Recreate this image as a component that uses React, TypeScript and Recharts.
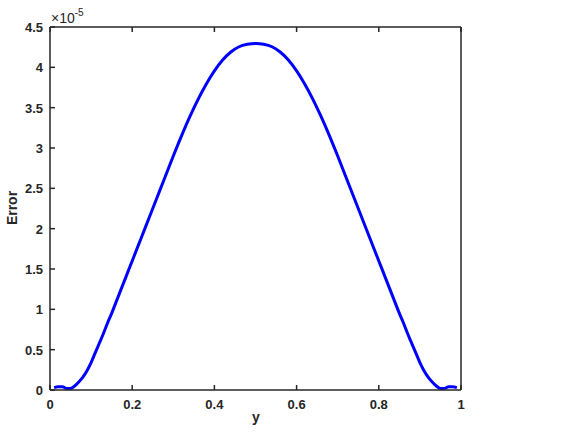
import { LineChart, Line, XAxis, YAxis, Customized } from "recharts";

// error values are in units of 1e-5
const yPos = [
  0.01, 0.02, 0.03, 0.04, 0.05, 0.06, 0.07, 0.08, 0.09, 0.1, 0.11, 0.12, 0.13, 0.14, 0.15, 0.16, 0.17, 0.18, 0.19,
  0.2, 0.22, 0.24, 0.26, 0.28, 0.3, 0.32, 0.34, 0.36, 0.38, 0.4, 0.42, 0.44, 0.46, 0.48, 0.5, 0.52, 0.54, 0.56,
  0.58, 0.6, 0.62, 0.64, 0.66, 0.68, 0.7, 0.72, 0.74, 0.76, 0.78, 0.8, 0.81, 0.82, 0.83, 0.84, 0.85, 0.86, 0.87,
  0.88, 0.89, 0.9, 0.91, 0.92, 0.93, 0.94, 0.95, 0.96, 0.97, 0.98, 0.99,
];
const errorVals = [
  0.03, 0.04, 0.04, 0.02, 0.02, 0.05, 0.1, 0.16, 0.24, 0.34, 0.46, 0.58, 0.7, 0.83, 0.95, 1.08, 1.21, 1.34, 1.47,
  1.6, 1.86, 2.12, 2.38, 2.64, 2.9, 3.15, 3.385, 3.6, 3.79, 3.955, 4.09, 4.19, 4.255, 4.285, 4.295, 4.285, 4.255,
  4.19, 4.09, 3.955, 3.79, 3.6, 3.385, 3.15, 2.9, 2.64, 2.38, 2.12, 1.86, 1.6, 1.47, 1.34, 1.21, 1.08, 0.95, 0.83,
  0.7, 0.58, 0.46, 0.34, 0.24, 0.16, 0.1, 0.05, 0.02, 0.02, 0.04, 0.04, 0.03,
];
const xTicks = [0, 0.2, 0.4, 0.6, 0.8, 1];
const yTicks = [0, 0.5, 1, 1.5, 2, 2.5, 3, 3.5, 4, 4.5];

const data = yPos.map((y, i) => ({ y, err: errorVals[i] }));

const axisColor = "#262626";
const font = "'Liberation Sans', Arial, Helvetica, sans-serif";
const TICK_LEN = 5;
const GAP = 14;

// tick helpers: draw an inward tick mark plus the label (MATLAB style)
const BottomTick = (p: any) => (
  <g>
    <line x1={p.x} x2={p.x} y1={p.y - GAP} y2={p.y - GAP - TICK_LEN} stroke={axisColor} strokeWidth={1.5} />
    <text x={p.x} y={p.y + 5} textAnchor="middle" fontSize={13} fontWeight={700} fill={axisColor} fontFamily={font}>
      {String(p.payload.value)}
    </text>
  </g>
);
const LeftTick = (p: any) => (
  <g>
    <line x1={p.x + GAP} x2={p.x + GAP + TICK_LEN} y1={p.y} y2={p.y} stroke={axisColor} strokeWidth={1.5} />
    <text x={p.x + 7} y={p.y + 5} textAnchor="end" fontSize={13} fontWeight={700} fill={axisColor} fontFamily={font}>
      {String(p.payload.value)}
    </text>
  </g>
);
const TopTick = (p: any) => (
  <line x1={p.x} x2={p.x} y1={p.y} y2={p.y + TICK_LEN} stroke={axisColor} strokeWidth={1.5} />
);
const RightTick = (p: any) => (
  <line x1={p.x} x2={p.x - TICK_LEN} y1={p.y} y2={p.y} stroke={axisColor} strokeWidth={1.5} />
);

const Labels = () => (
  <g fontFamily={font} fill={axisColor}>
    <text x={51} y={23} fontSize={14}>
      ×10
      <tspan dy={-7} fontSize={10}>
        -5
      </tspan>
    </text>
    <text x={17} y={208} fontSize={14} fontWeight={700} textAnchor="middle" transform="rotate(-90 17 208)">
      Error
    </text>
    <text x={256} y={422} fontSize={14} fontWeight={700} textAnchor="middle">
      y
    </text>
  </g>
);

export default function App() {
  return (
    <div style={{ position: "absolute", left: 0, top: 0, background: "#fff" }}>
      <LineChart width={584} height={438} data={data} margin={{ top: 26, right: 122, bottom: 18, left: 0 }}>
        <XAxis
          dataKey="y"
          type="number"
          domain={[0, 1]}
          ticks={xTicks}
          height={30}
          tickSize={0}
          tickMargin={GAP}
          tickLine={false}
          tick={BottomTick}
          stroke={axisColor}
          strokeWidth={1.5}
        />
        <XAxis
          xAxisId="top"
          orientation="top"
          dataKey="y"
          type="number"
          domain={[0, 1]}
          ticks={xTicks}
          height={1}
          tickSize={0}
          tickMargin={0}
          tickLine={false}
          tick={TopTick}
          stroke={axisColor}
          strokeWidth={1.5}
        />
        <YAxis
          type="number"
          domain={[0, 4.5]}
          ticks={yTicks}
          width={50}
          tickSize={0}
          tickMargin={GAP}
          tickLine={false}
          tick={LeftTick}
          stroke={axisColor}
          strokeWidth={1.5}
        />
        <YAxis
          yAxisId="right"
          orientation="right"
          type="number"
          domain={[0, 4.5]}
          ticks={yTicks}
          width={1}
          tickSize={0}
          tickMargin={0}
          tickLine={false}
          tick={RightTick}
          stroke={axisColor}
          strokeWidth={1.5}
        />
        <Line
          dataKey="err"
          type="monotone"
          stroke="#0000ff"
          strokeWidth={3}
          dot={false}
          isAnimationActive={false}
        />
        <Customized component={Labels} />
      </LineChart>
    </div>
  );
}
